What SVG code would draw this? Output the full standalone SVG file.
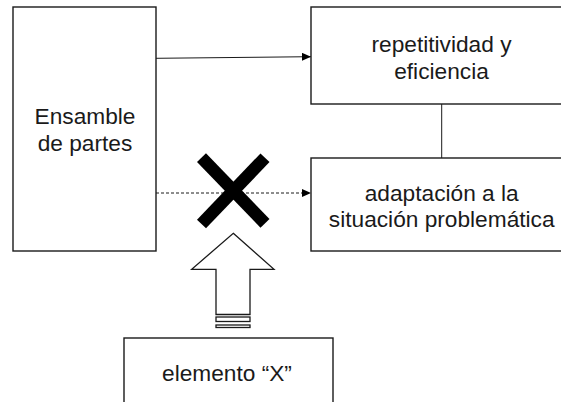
<svg xmlns="http://www.w3.org/2000/svg" width="561" height="402" viewBox="0 0 561 402">
<defs>
<style>
.box{fill:#fff;stroke:#1a1a1a;stroke-width:1.4}
.t{font-family:"Liberation Sans",Arial,sans-serif;font-size:22.7px;fill:#1a1a1a;text-anchor:middle}
.ln{stroke:#1a1a1a;stroke-width:1;fill:none}
</style>
<marker id="ah" markerWidth="10" markerHeight="8" refX="9" refY="4" orient="auto" markerUnits="userSpaceOnUse">
<path d="M0,0 L9,4 L0,8 Z" fill="#000"/>
</marker>
</defs>
<rect width="561" height="402" fill="#fff"/>
<g id="connectors">
<line class="ln" x1="156" y1="58.3" x2="311" y2="56.7" marker-end="url(#ah)"/>
<line class="ln" x1="156" y1="193" x2="311" y2="193" stroke-dasharray="3,2" marker-end="url(#ah)"/>
<line class="ln" x1="441.7" y1="104" x2="441.7" y2="158"/>
</g>
<g id="ensamble">
<rect class="box" x="13" y="7" width="143" height="244"/>
<text class="t" x="85" y="124">Ensamble</text>
<text class="t" x="85" y="151">de partes</text>
</g>
<g id="repetitividad">
<rect class="box" x="311" y="7" width="261" height="97"/>
<text class="t" x="441.5" y="51.5">repetitividad y</text>
<text class="t" x="441.5" y="79">eficiencia</text>
</g>
<g id="adaptacion">
<rect class="box" x="311" y="158" width="261" height="93"/>
<text class="t" x="441.7" y="200.5">adaptación a la</text>
<text class="t" x="441.7" y="227">situación problemática</text>
</g>
<g id="cross">
<line x1="201.5" y1="157.7" x2="265" y2="223.3" stroke="#000" stroke-width="12.5"/>
<line x1="265" y1="157.7" x2="201.5" y2="224" stroke="#000" stroke-width="12.5"/>
</g>
<g id="block-arrow">
<path d="M233.3,233.3 L274,269.3 L250,269.3 L250,314.5 L216,314.5 L216,269.3 L191.7,269.3 Z" fill="#fff" stroke="#1a1a1a" stroke-width="1.3"/>
<rect x="216" y="317" width="34" height="4.5" fill="#fff" stroke="#1a1a1a" stroke-width="1.3"/>
<rect x="216" y="325" width="34" height="2.5" fill="#fff" stroke="#1a1a1a" stroke-width="1.3"/>
</g>
<g id="elemento">
<rect class="box" x="124" y="338" width="209" height="80"/>
<text class="t" x="227" y="381">elemento “X”</text>
</g>
</svg>
